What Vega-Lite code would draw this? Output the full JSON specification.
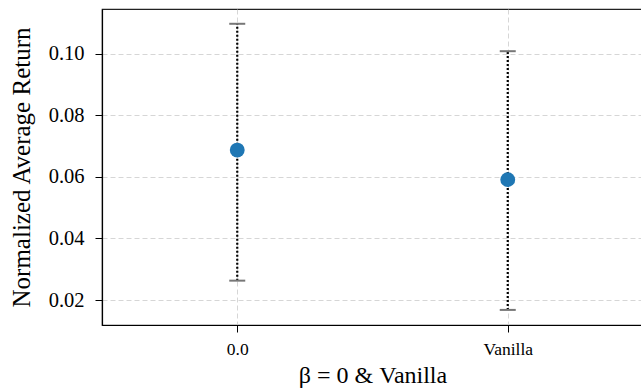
{
  "$schema": "https://vega.github.io/schema/vega-lite/v6.json",
  "autosize": "none",
  "padding": {"left": 102, "top": 9, "right": 0, "bottom": 66},
  "width": 541,
  "height": 316,
  "config": {
    "view": {"stroke": "#222222", "strokeWidth": 1.2},
    "font": "Liberation Serif",
    "axis": {
      "titleFont": "Liberation Serif",
      "labelFont": "Liberation Serif",
      "titleFontWeight": "normal",
      "titleColor": "#000000",
      "labelColor": "#000000",
      "tickSize": 7,
      "tickColor": "#000000",
      "domainColor": "#000000",
      "domainWidth": 1.2,
      "grid": true,
      "gridDash": [5, 3],
      "gridColor": "#cccccc",
      "gridWidth": 0.8
    },
    "axisX": {
      "titleFontSize": 24,
      "titlePadding": 6,
      "labelFontSize": 17.5,
      "labelPadding": 8,
      "labelAngle": 0
    },
    "axisY": {
      "titleFontSize": 25,
      "titlePadding": 14,
      "labelFontSize": 20.5,
      "labelPadding": 11
    }
  },
  "data": {
    "values": [
      {"method": "0.0", "mean": 0.0687, "lo": 0.0263, "hi": 0.1097},
      {"method": "Vanilla", "mean": 0.0591, "lo": 0.0168, "hi": 0.1008}
    ]
  },
  "layer": [
    {
      "mark": {"type": "rule", "color": "#000000", "strokeWidth": 2.2, "strokeDash": [2, 2]},
      "encoding": {
        "x": {
          "field": "method",
          "type": "nominal",
          "sort": null,
          "scale": {"type": "point", "padding": 0.5},
          "axis": {"title": "β = 0 & Vanilla"}
        },
        "y": {
          "field": "lo",
          "type": "quantitative",
          "scale": {"domain": [0.0119, 0.1145], "nice": false, "zero": false},
          "axis": {
            "title": "Normalized Average Return",
            "values": [0.02, 0.04, 0.06, 0.08, 0.1],
            "format": ".2f"
          }
        },
        "y2": {"field": "hi"}
      }
    },
    {
      "mark": {"type": "tick", "color": "#777777", "thickness": 2, "size": 16, "opacity": 1},
      "encoding": {
        "x": {"field": "method", "type": "nominal", "sort": null},
        "y": {"field": "lo", "type": "quantitative"}
      }
    },
    {
      "mark": {"type": "tick", "color": "#777777", "thickness": 2, "size": 16, "opacity": 1},
      "encoding": {
        "x": {"field": "method", "type": "nominal", "sort": null},
        "y": {"field": "hi", "type": "quantitative"}
      }
    },
    {
      "mark": {"type": "circle", "color": "#1f77b4", "size": 220, "opacity": 1},
      "encoding": {
        "x": {"field": "method", "type": "nominal", "sort": null},
        "y": {"field": "mean", "type": "quantitative"}
      }
    }
  ]
}
